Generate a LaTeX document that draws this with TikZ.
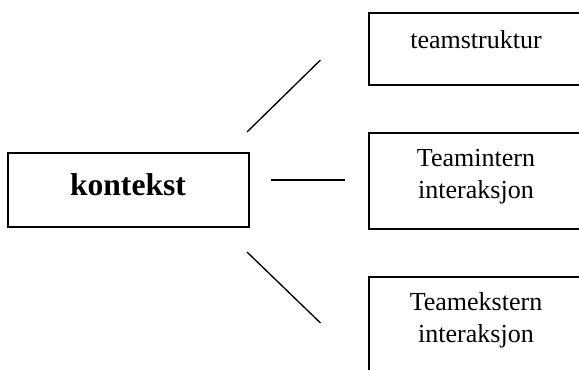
\documentclass[tikz,border=0pt]{standalone}
\usepackage{fontspec}
\setmainfont{Liberation Serif}
\usetikzlibrary{positioning}

\begin{document}
\begin{tikzpicture}[x=0.75pt,y=-0.75pt,
  box/.style={draw, line width=1.5pt, inner sep=0pt},
  txt/.style={inner sep=0pt, align=center, font=\fontsize{19.5}{23.3}\selectfont},
  link/.style={line width=1pt}]
\useasboundingbox (0,0) rectangle (579,369);
\clip (0,0) rectangle (579,369);
\node[box, minimum width=180.75pt, minimum height=55.5pt] (kontekst) at (128,190) {};
\node[inner sep=0pt, anchor=base, font=\fontsize{23.7}{28}\selectfont\bfseries] (kontekstlbl) at (128,195) {kontekst};
\foreach \n/\y/\h/\b/\t in {struktur/12/54/48/teamstruktur, intern/132/72/198/Teamintern\\interaksjon, ekstern/276/72/342/Teamekstern\\interaksjon}{
\node[box, anchor=north west, minimum width=180pt, minimum height=\h pt] (\n) at (368,\y) {};
\node[txt, anchor=base] (\n lbl) at (476,\b) {\t};
}
\coordinate (a1) at (247,132); \coordinate (b1) at (320.5,60);
\coordinate (a2) at (271,180); \coordinate (b2) at (344.5,180);
\coordinate (a3) at (247,252); \coordinate (b3) at (320.5,323);
\foreach \i in {1,2,3}
\draw[link] (a\i) -- (b\i);
\end{tikzpicture}
\end{document}
